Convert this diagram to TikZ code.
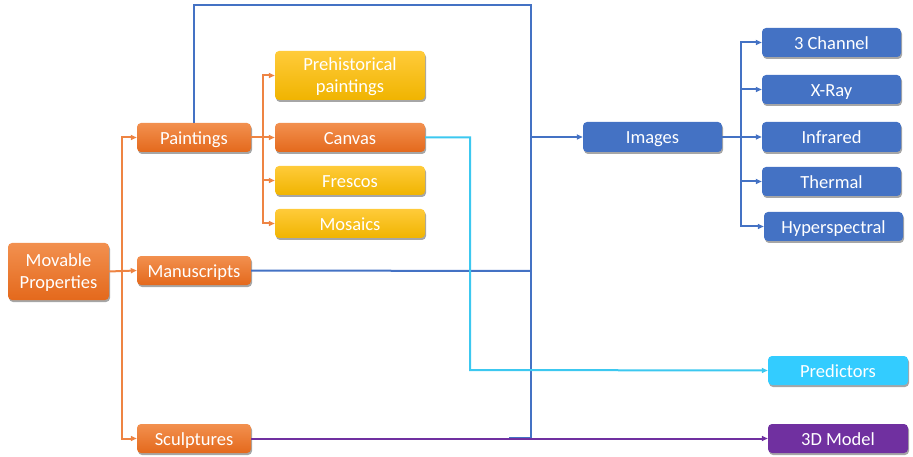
\documentclass[tikz,border=0pt]{standalone}
\usepackage{fontspec}
\setmainfont{Carlito}
\usetikzlibrary{arrows.meta,shadows}

\definecolor{orgTop}{HTML}{F2904F}
\definecolor{orgBot}{HTML}{E4691C}
\definecolor{ylwTop}{HTML}{FFCB3A}
\definecolor{ylwBot}{HTML}{F0B400}
\definecolor{bluBox}{HTML}{4472C4}
\definecolor{cyanBox}{HTML}{33CCFF}
\definecolor{purpBox}{HTML}{7030A0}
\definecolor{orgLine}{HTML}{EE8443}
\definecolor{bluLine}{HTML}{4472C4}
\definecolor{cyanLine}{HTML}{3CC8F0}
\definecolor{purpLine}{HTML}{7030A0}

\tikzset{
  box/.style={rounded corners=4pt, inner sep=0pt, align=center, text=white,
    font=\fontsize{18.5}{22}\selectfont,
    text height=15.5pt, text depth=1.5pt,
    drop shadow={shadow xshift=1pt, shadow yshift=-2pt, opacity=0.35, fill=black}},
  twoline/.style={text height=37pt, text depth=3pt},
  orgbox/.style={box, top color=orgTop, bottom color=orgBot},
  ylwbox/.style={box, top color=ylwTop, bottom color=ylwBot},
  blubox/.style={box, fill=bluBox},
  cyanbox/.style={box, fill=cyanBox},
  purpbox/.style={box, fill=purpBox},
  wire/.style={line width=2pt},
  tip/.style={-{Triangle[length=6pt,width=5pt]}},
  oline/.style={wire, draw=orgLine},
  bline/.style={wire, draw=bluLine},
  cline/.style={wire, draw=cyanLine},
  pline/.style={wire, draw=purpLine},
}

\begin{document}
\begin{tikzpicture}[x=1pt, y=-1pt]
\useasboundingbox (0,0) rectangle (913,457);

% ---- junction points of the connector trees ----
\coordinate (tA) at (122,271);
\coordinate (tB) at (263,137);
\coordinate (bTopL) at (194,5);
\coordinate (bTopR) at (531,5);
\coordinate (bJoin) at (531,137);
\coordinate (bMan) at (531,271);
\coordinate (bLow) at (531,438);
\coordinate (bFoot) at (509,438);
\coordinate (tC) at (741,137);
\coordinate (cBend) at (470,370);

% ---- boxes ----
\node[orgbox, twoline, minimum width=101pt, minimum height=57pt] (mov) at (58.5,271.5) {Movable\\Properties};
\node[orgbox, minimum width=114pt, minimum height=29pt] (paint) at (194,137.5) {Paintings};
\node[orgbox, minimum width=114pt, minimum height=29pt] (manu) at (194,270.5) {Manuscripts};
\node[orgbox, minimum width=114pt, minimum height=29pt] (sculp) at (194,438.5) {Sculptures};

\node[ylwbox, twoline, minimum width=150pt, minimum height=49pt] (pre) at (350,75.5) {Prehistorical\\paintings};
\node[orgbox, minimum width=150pt, minimum height=29pt] (canv) at (350,137.5) {Canvas};
\node[ylwbox, minimum width=150pt, minimum height=29pt] (fres) at (350,180.5) {Frescos};
\node[ylwbox, minimum width=150pt, minimum height=29pt] (mosa) at (350,223.5) {Mosaics};

\node[blubox, minimum width=139pt, minimum height=30pt] (img) at (652.5,137) {Images};
\node[blubox, minimum width=139pt, minimum height=29pt] (ch3) at (831.5,42.5) {3 Channel};
\node[blubox, minimum width=139pt, minimum height=29pt] (xray) at (831.5,89.5) {X-Ray};
\node[blubox, minimum width=139pt, minimum height=30pt] (infr) at (831.5,137) {Infrared};
\node[blubox, minimum width=139pt, minimum height=29pt] (therm) at (831.5,181.5) {Thermal};
\node[blubox, minimum width=139pt, minimum height=29pt] (hyper) at (833.5,226.5) {Hyperspectral};

\node[cyanbox, minimum width=140pt, minimum height=29pt] (pred) at (838,370.5) {Predictors};
\node[purpbox, minimum width=140pt, minimum height=29pt] (model) at (838,438.5) {3D Model};

% ---- orange tree: Movable Properties -> categories ----
\draw[oline] (mov.east) -- (tA);
\draw[oline, tip] (tA) |- (paint.west);
\draw[oline, tip] (tA) -- (manu.west);
\draw[oline, tip] (tA) |- (sculp.west);

% ---- orange tree: Paintings -> kinds ----
\draw[oline, tip] (paint.east) -- (canv.west);
\draw[oline, tip] (tB) |- (pre.west);
\draw[oline, tip] (tB) |- (fres.west);
\draw[oline, tip] (tB) |- (mosa.west);

% ---- blue: sources -> Images ----
\draw[bline] (paint.north) -- (bTopL) -- (bTopR) -- (bLow) -- (bFoot);
\draw[bline] (manu.east) -- (bMan);
\draw[bline, tip] (bJoin) -- (img.west);

% ---- blue tree: Images -> modalities ----
\draw[bline] (img.east) -- (tC);
\draw[bline, tip] (tC) |- (ch3.west);
\draw[bline, tip] (tC) |- (xray.west);
\draw[bline, tip] (tC) -- (infr.west);
\draw[bline, tip] (tC) |- (therm.west);
\draw[bline, tip] (tC) |- (hyper.west);

% ---- cyan: Canvas -> Predictors ----
\draw[cline, tip] (canv.east) -| (cBend) -- (pred.west);

% ---- purple: Sculptures -> 3D Model ----
\draw[pline, tip] (sculp.east) -- (model.west);
\end{tikzpicture}
\end{document}
